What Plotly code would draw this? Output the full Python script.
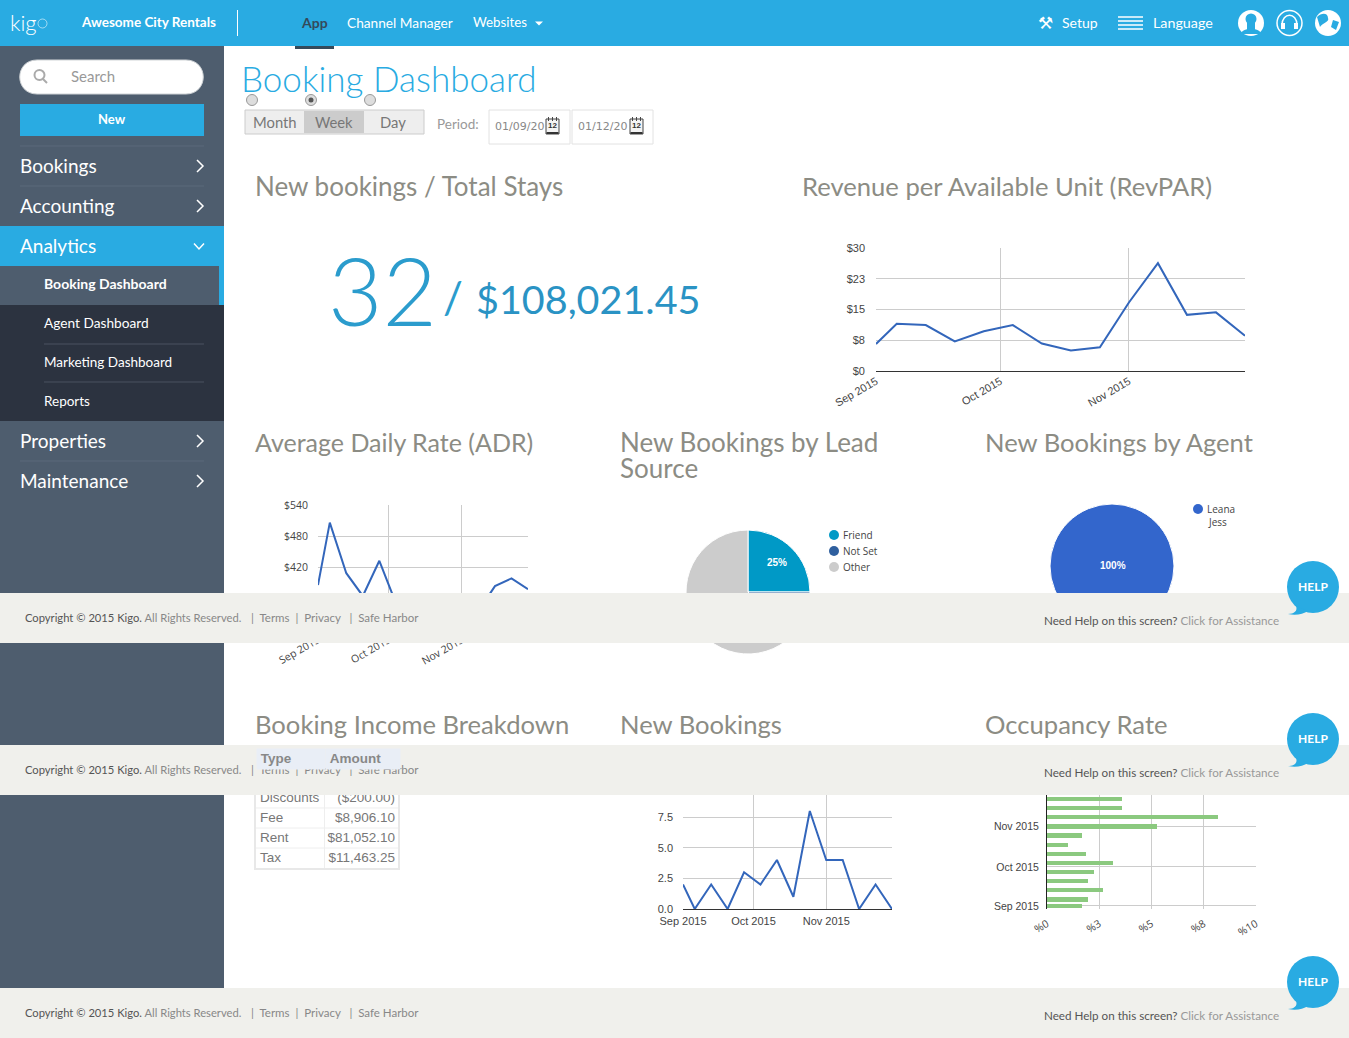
import plotly.graph_objects as go

W, H = 1349, 1038
# ---- data ----
weeks = ["2015-09-01","2015-09-06","2015-09-13","2015-09-20","2015-09-27","2015-10-04","2015-10-11",
         "2015-10-18","2015-10-25","2015-11-01","2015-11-08","2015-11-15","2015-11-22","2015-11-29"]
month_ticks = ["2015-09-01","2015-10-01","2015-11-01"]
month_labels = ["Sep 2015","Oct 2015","Nov 2015"]
revpar = [6.6,11.5,11.2,7.2,9.7,11.2,6.7,5.0,5.8,16.7,26.3,13.7,14.3,8.6]
revpar_ticks = [0,7.5,15,22.5,30]
revpar_labels = ["$0","$8","$15","$23","$30"]
adr = [385,506,408,364,432,350,320,330,340,335,335,383,398,377]
adr_ticks = [300,360,420,480,540]
adr_labels = ["$300","$360","$420","$480","$540"]
new_bookings = [2,0,2,0,3,2,4,1,8,4,4,0,2,0]
nb_ticks = [0,2.5,5,7.5,10]
nb_labels = ["0.0","2.5","5.0","7.5","10.0"]
occupancy = [1.68,1.94,2.7,1.94,2.27,3.17,1.88,1.02,1.68,5.28,8.16,3.6,3.6,3.0]
occ_ticks = [0,2.5,5,7.5,10]
occ_labels = ["%0","%3","%5","%8","%10"]
lead_labels = ["Friend","Not Set","Other"]
lead_values = [25,12.5,62.5]
lead_colors = ["#0099c6","#2f5f9e","#cccccc"]
agent_labels = ["Leana Jess"]
agent_values = [100]
income_types = ["Cleaning","Discounts","Fee","Rent","Tax"]
income_amounts = ["$6,800.00","($200.00)","$8,906.10","$81,052.10","$11,463.25"]

BLUE="#29abe2"; SIDE="#4e5d6e"; DARK="#2c3340"; BAND="#f0f0ec"; TITLE="#8c8c84"
RAL="Lato"; ARIAL="Liberation Sans"

px=lambda x:x/W
py=lambda y:1-y/H
shapes=[]; anns=[]
def rect(x0,y0,x1,y1,fill,line=None,lw=1):
    shapes.append(dict(type="rect",xref="paper",yref="paper",x0=px(x0),x1=px(x1),y0=py(y0),y1=py(y1),
        fillcolor=fill,line=dict(color=line or "rgba(0,0,0,0)",width=lw if line else 0),layer="above"))
def circ(cx,cy,r,fill,line=None,lw=1):
    shapes.append(dict(type="circle",xref="paper",yref="paper",x0=px(cx-r),x1=px(cx+r),y0=py(cy-r),y1=py(cy+r),
        fillcolor=fill,line=dict(color=line or "rgba(0,0,0,0)",width=lw if line else 0),layer="above"))
def path(cmds,fill=None,line=None,lw=1):
    s=""
    for c in cmds:
        s+=c[0]+" ".join(f"{px(c[i]):.6f},{py(c[i+1]):.6f}" for i in range(1,len(c),2))+" "
    shapes.append(dict(type="path",xref="paper",yref="paper",path=s.strip(),fillcolor=fill or "rgba(0,0,0,0)",
        line=dict(color=line or "rgba(0,0,0,0)",width=lw),layer="above"))
def hline(x0,x1,y,c,lw=1): path([("M",x0,y),("L",x1,y)],line=c,lw=lw)
def T(t,x,y,size,color,anchor="left",weight=400,family=RAL,**kw):
    dx={"left":-1,"right":1,"center":0}[anchor]
    anns.append(dict(text=t,xref="paper",yref="paper",x=px(x+dx),y=py(y-0.7),xanchor=anchor,yanchor="middle",showarrow=False,
        borderpad=0,font=dict(size=size,color=color,family=family,weight=weight),**kw))

# sidebar + menu
rect(0,46,224,988,SIDE)
rect(0,226,224,266,BLUE)
rect(0,266,219,305,SIDE); rect(219,266,224,305,BLUE)
rect(0,305,224,421,DARK)
for y in (146,186,461): hline(20,204,y,"#5b6a7b")
for y in (344,382): hline(44,204,y,"#4a5260")
# top bar
rect(0,0,W,46,BLUE)
rect(295,46,334,49,"#34495a")
path([("M",237.5,10),("L",237.5,36)],line="white",lw=1)
# search + new
path([("M",37,60),("L",186,60),("C",209,60,209,94,186,94),("L",37,94),("C",14,94,14,60,37,60),("Z",)],fill="white",line="#cfd3d6")
circ(39.5,75,5,"rgba(0,0,0,0)","#aaaaaa",2); path([("M",43,79),("L",47,83)],line="#aaaaaa",lw=2)
rect(20,104,204,136,BLUE)
# chevrons
for y in (166,206,441,481): path([("M",197,y-6),("L",203,y),("L",197,y+6)],line="white",lw=1.5)
path([("M",194,243.5),("L",199,249),("L",204,243.5)],line="white",lw=1.5)
# radios + toggle
for x,on in ((252,0),(311,1),(370,0)):
    circ(x,100,5.5,"#dddddd","#999999")
    if on: circ(x,100,2.5,"#555555")
rect(245,110,424,134,"#eeeeee","#cccccc"); rect(304,111,364,133,"#cccccc")
# date inputs
rect(489,110,570,144,"white","#e2e2e2"); rect(572,110,653,144,"white","#e2e2e2")
for x in (552.5,636.5):
    rect(x-6.5,119,x+6.5,134,"#f4f4f4","#444444"); rect(x-6,132,x+6,134,"#333333")
    for d in (-4,0,4): path([("M",x+d,117),("L",x+d,121)],line="#444444")
# top-right icons
for y in (17,21,25,29): hline(1118,1143,y,"white",1.5)
circ(1251,23,13,"white"); circ(1251,19,5.5,BLUE); rect(1247,22,1255,30,BLUE)
path([("M",1240,34),("C",1244,27,1258,27,1262,34)],fill=BLUE)
circ(1289.5,23,12.5,"rgba(0,0,0,0)","white",1.5)
path([("M",1282,25),("C",1282,12,1297,12,1297,25)],line="white",lw=1.5); rect(1281,23,1285,29,"white"); rect(1294,23,1298,29,"white")
circ(1328,23,13,"white")
path([("M",1317,17),("C",1322,12,1328,13,1328,18),("C",1330,22,1322,23,1320,27),("Z",)],fill=BLUE)
path([("M",1333,20),("L",1339,22),("L",1336,30),("L",1331,27),("Z",)],fill=BLUE)
# legend dots
for c,y in zip(lead_colors,(535,551,567)): circ(834,y,5,c)
circ(1198,509,5,"#3366cc")
# table rules
for y in (788,808,828,848): hline(255,399,y,"#eeeeee")
path([("M",324.5,768),("L",324.5,868)],line="#eeeeee")
rect(255,768,399,869,"rgba(0,0,0,0)","#e8e8e8",2)
# footer bands
for y in (593,745,988): rect(0,y,W,y+50,BAND)
# help bubbles
for cy in (587,739,982):
    circ(1313,cy,26,BLUE)
    path([("M",1296,cy+19),("C",1298,cy+24,1294,cy+27,1288,cy+27),("C",1296,cy+29,1303,cy+27,1308,cy+24),("Z",)],fill=BLUE)

# ---- text ----
T("kig",10,23,22,"white",family="Lato",weight=300)
circ(42.5,23.5,4.5,"rgba(0,0,0,0)","rgba(255,255,255,0.55)",1)
T("Awesome City Rentals",81,23,13.5,"white",weight=700)
T("App",314,23,14,"#34495a","center",700)
T("Channel Manager",347,23,13.7,"white")
T("Websites",473,23,13.3,"white")
path([("M",535,21.5),("L",543,21.5),("L",539,25.5),("Z",)],fill="white")
T("⚒",1045,24,17,"white","center",family="DejaVu Sans")
T("Setup",1062,23,14,"white")
T("Language",1153,23,14.3,"white")
T("Search",71,77,15,"#999999")
T("New",112,120,13,"white","center",700)
for t,y in (("Bookings",166),("Accounting",206),("Analytics",246),("Properties",441),("Maintenance",481)):
    T(t,20,y,19,"white")
T("Booking Dashboard",44,284.5,14,"white",weight=700)
T("Agent Dashboard",44,323.5,13.7,"white")
T("Marketing Dashboard",44,362.5,13.5,"white")
T("Reports",44,401.5,13.5,"white")
T("Booking Dashboard",241,79,35,BLUE,weight=300)
T("Month",275,123,14.8,"#777777","center")
T("Week",334,123,14.8,"#777777","center")
T("Day",393,123,14.8,"#777777","center")
T("Period:",437,125,13.5,"#999999")
T("01/09/20",495,127.5,11,"#888888",family="DejaVu Sans")
T("01/12/20",578,127.5,11,"#888888",family="DejaVu Sans")
for x in (552.5,636.5): T("12",x,126.5,8,"#333333","center",700,family=ARIAL)
T("New bookings / Total Stays",255,187,26,TITLE)
T("Revenue per Available Unit (RevPAR)",802,187,25.6,TITLE)
T("Average Daily Rate (ADR)",255,443,25,TITLE)
T("New Bookings by Lead",620,443,26,TITLE)
T("Source",620,469,26,TITLE)
T("New Bookings by Agent",985,443,25.6,TITLE)
T("Booking Income Breakdown",255,725,25.6,TITLE)
T("New Bookings",620,725,25.6,TITLE)
T("Occupancy Rate",985,725,25.6,TITLE)
T("32",328,290,94,"#2b9ccd",weight=300)
T("/",443,298,44,"#2b9ccd",weight=400)
T("$108,021.45",476,299,39.5,"#2a93c4")
T("25%",777,563.5,10,"white","center",700,family=ARIAL)
T("100%",1113,566.5,10,"white","center",700,family=ARIAL)
for t,y in zip(lead_labels,(535.5,551.5,567.5)): T(t,843,y,10,"#444444",family="Open Sans")
T("Leana",1207,509.5,10,"#444444",family="Open Sans")
T("Jess",1217,522.5,10,"#444444","center",family="Open Sans")
for y,yr in ((618,621),(770,773),(1013,1016)):
    T('Copyright © 2015 Kigo. <span style="color:#888888">All Rights Reserved.</span>',25,y,11.2,"#555555")
    T("|  Terms  |  Privacy   |  Safe Harbor",251,y,11.5,"#888888")
    T('Need Help on this screen? <span style="color:#999999">Click for Assistance</span>',1279,yr,11.65,"#555555","right")
for y in (587.5,739.5,982.5): T("HELP",1313,y,12,"white","center",700)
# sticky table header on top of the footer band
hdr=dict(bgcolor="#e9eef6",height=19.5,valign="middle")
T("&nbsp;Type",257,759.4,13.5,"#888888","left",700,family=ARIAL,width=68,align="left",**hdr)
T("&nbsp;Amount",326,759.4,13.5,"#888888","left",700,family=ARIAL,width=74,align="left",**hdr)

fig=go.Figure()
LINE="#3366bb"; GRID="#cccccc"; TICKF=dict(size=11,color="#444444",family=ARIAL)
RF=dict(size=10.5,color="#444444",family="Open Sans")
def dom(x0,x1,y0,y1): return dict(domain=[px(x0),px(x1)]),dict(domain=[py(y1),py(y0)])
def line_chart(n,vals,xbox,ybox,yt,yl,yr,angle,tf,base=True,stand=8,xstand=2):
    xd,yd=dom(xbox[0],xbox[1],ybox[0],ybox[1])
    s="" if n==1 else str(n)
    fig.add_trace(go.Scatter(x=weeks,y=vals,mode="lines",line=dict(color=LINE,width=2),xaxis="x"+s,yaxis="y"+s,
        hoverinfo="skip",showlegend=False,cliponaxis=True))
    fig.update_layout({"xaxis"+s:dict(**xd,type="date",range=[weeks[0],weeks[-1]],tickmode="array",tickvals=month_ticks,ticktext=month_labels,
        tickangle=angle,tickfont=tf,showgrid=True,gridcolor=GRID,gridwidth=1,zeroline=False,showline=base,linecolor="#333333",linewidth=1,
        anchor="y"+s,ticks="",ticklabelstandoff=xstand,automargin=False,fixedrange=True),
      "yaxis"+s:dict(**yd,range=yr,tickmode="array",tickvals=yt,ticktext=yl,tickfont=tf,showgrid=True,gridcolor=GRID,gridwidth=1,
        zeroline=False,showline=False,anchor="x"+s,ticks="",ticklabelstandoff=stand,automargin=False,fixedrange=True)})
line_chart(1,revpar,(876,1245),(248,371),revpar_ticks,revpar_labels,[0,30],-30,TICKF,stand=10,xstand=-1)
line_chart(2,adr,(318,528),(505,629),adr_ticks,adr_labels,[300,540],-30,RF,stand=9,xstand=0)
line_chart(3,new_bookings,(683,892),(786.5,909),nb_ticks,nb_labels,[0,10],0,TICKF,stand=9)

xd,yd=dom(1047,1256,786,909)
fig.add_trace(go.Bar(x=occupancy,y=weeks,orientation="h",marker=dict(color="#8bc97f",line=dict(width=0)),width=3.2*86400000,
    xaxis="x4",yaxis="y4",hoverinfo="skip",showlegend=False))
fig.update_layout(xaxis4=dict(**xd,range=[0,10],tickmode="array",tickvals=occ_ticks,ticktext=occ_labels,tickangle=-30,tickfont=RF,
        showgrid=True,gridcolor=GRID,zeroline=False,showline=False,anchor="y4",ticks="",ticklabelstandoff=6,fixedrange=True),
    yaxis4=dict(**yd,type="date",range=["2015-08-29 16:00","2015-12-02"],tickmode="array",tickvals=month_ticks,ticktext=month_labels,
        tickfont=dict(size=10.5,color="#444444",family=ARIAL),showgrid=True,gridcolor=GRID,zeroline=False,showline=True,linecolor="#222222",linewidth=1,anchor="x4",ticks="",
        ticklabelstandoff=5,fixedrange=True),bargap=0)

# pies
fig.add_trace(go.Pie(labels=lead_labels,values=lead_values,sort=False,direction="clockwise",rotation=0,textinfo="none",
    marker=dict(colors=lead_colors,line=dict(color="white",width=1)),hoverinfo="skip",showlegend=False,
    domain=dict(x=[px(748-62),px(748+62)],y=[py(592+62),py(592-62)])))
fig.add_trace(go.Pie(labels=agent_labels,values=agent_values,sort=False,textinfo="none",
    marker=dict(colors=["#3366cc"],line=dict(color="white",width=1)),hoverinfo="skip",showlegend=False,
    domain=dict(x=[px(1112-62),px(1112+62)],y=[py(566+62),py(566-62)])))
# table
fig.add_trace(go.Table(columnwidth=[72,79],domain=dict(x=[px(252),px(403)],y=[py(865),py(744)]),
    header=dict(values=["",""],height=20,fill_color="rgba(0,0,0,0)",line_color="rgba(0,0,0,0)"),
    cells=dict(values=[income_types,income_amounts],height=20,align=["left","right"],fill_color="rgba(0,0,0,0)",line_color="rgba(0,0,0,0)",
        font=dict(size=13.5,color="#777777",family=ARIAL))))

fig.update_layout(width=W,height=H,margin=dict(l=0,r=0,t=0,b=0,pad=0,autoexpand=False),paper_bgcolor="white",plot_bgcolor="white",
    showlegend=False,shapes=shapes,annotations=anns,hovermode=False)
fig.write_html("out.html",config=dict(displayModeBar=False,staticPlot=True),
    post_script="document.body.style.margin='0';document.documentElement.style.overflow='hidden';")
